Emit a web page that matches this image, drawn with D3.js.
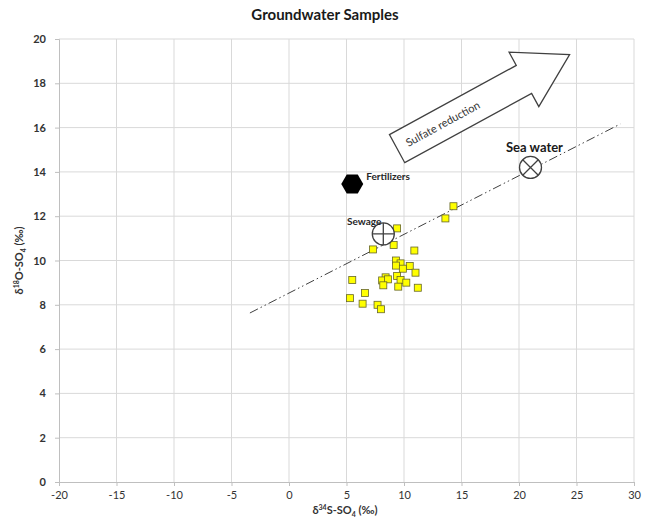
<!DOCTYPE html>
<html>
<head>
<meta charset="utf-8">
<script src="https://cdn.jsdelivr.net/npm/d3@7"></script>
<style>
  body { margin: 0; background: #fff; }
  text { font-family: Lato, "Open Sans", sans-serif; }
</style>
</head>
<body>
<svg id="chart"></svg>
<script>
// groundwater samples (d34S, d18O)
var sampleX = [14.3, 13.6, 9.4, 9.1, 7.3, 10.9, 9.3, 9.7, 9.3, 10.5, 9.9, 11.0, 5.5, 8.4, 8.1, 8.6, 9.4, 9.7, 8.2, 9.5, 10.2, 11.2, 6.6, 5.3, 6.4, 7.7, 8.0];
var sampleY = [12.45, 11.9, 11.45, 10.7, 10.5, 10.45, 10.0, 9.87, 9.77, 9.75, 9.63, 9.45, 9.12, 9.24, 9.1, 9.15, 9.3, 9.12, 8.88, 8.82, 9.0, 8.77, 8.53, 8.3, 8.05, 8.0, 7.8];

// end members
var sourceNames = ["Fertilizers", "Sewage", "Sea water"];
var sourceX = [5.5, 8.2, 21.0];
var sourceY = [13.45, 11.2, 14.2];

// mixing line and sulfate reduction arrow
var lineX = [-3.4, 28.8];
var lineY = [7.63, 16.16];
var arrowX = [9.4, 24.4];
var arrowY = [15.05, 19.3];

var xTicks = [-20, -15, -10, -5, 0, 5, 10, 15, 20, 25, 30];
var yTicks = [0, 2, 4, 6, 8, 10, 12, 14, 16, 18, 20];

var width = 648, height = 521;
var margin = {left: 59, right: 14, top: 39, bottom: 39};

var svg = d3.select("#chart")
  .attr("width", width)
  .attr("height", height);

var x = d3.scaleLinear().domain([-20, 30]).range([margin.left, width - margin.right]);
var y = d3.scaleLinear().domain([0, 20]).range([height - margin.bottom, margin.top]);

// gridlines
svg.append("g").selectAll("line").data(xTicks.slice(1)).enter().append("line")
  .attr("x1", function(d) { return x(d); }).attr("x2", function(d) { return x(d); })
  .attr("y1", y(0)).attr("y2", y(20))
  .attr("stroke", "#d9d9d9");
svg.append("g").selectAll("line").data(yTicks.slice(1)).enter().append("line")
  .attr("x1", x(-20)).attr("x2", x(30))
  .attr("y1", function(d) { return y(d); }).attr("y2", function(d) { return y(d); })
  .attr("stroke", "#d9d9d9");

// axes
var xAxis = svg.append("g")
  .attr("transform", "translate(0," + y(0) + ")")
  .call(d3.axisBottom(x).tickValues(xTicks).tickSize(4).tickPadding(5));
var yAxis = svg.append("g")
  .attr("transform", "translate(" + x(-20) + ",0)")
  .call(d3.axisLeft(y).tickValues(yTicks).tickSize(4).tickPadding(9));

[xAxis, yAxis].forEach(function(a) {
  a.select(".domain").attr("stroke", "#bfbfbf");
  a.selectAll(".tick line").attr("stroke", "#bfbfbf");
  a.selectAll(".tick text").attr("fill", "#333").style("font-family", "Lato, sans-serif").style("font-size", "11px");
});
xAxis.selectAll(".tick text").text(function(d) { return d < 0 ? "-" + Math.abs(d) : d; });
yAxis.selectAll(".tick text").style("font-weight", "bold");

// title
svg.append("text")
  .attr("x", 325).attr("y", 20)
  .attr("text-anchor", "middle")
  .style("font-size", "15px").style("font-weight", "bold").attr("fill", "#1a1a1a")
  .text("Groundwater Samples");

// axis titles
var xt = svg.append("text")
  .attr("x", 345).attr("y", 514)
  .attr("text-anchor", "middle")
  .style("font-size", "11px").style("font-weight", "bold").attr("fill", "#333");
xt.append("tspan").text("δ");
xt.append("tspan").attr("dy", -4).style("font-size", "7px").text("34");
xt.append("tspan").attr("dy", 4).text("S-SO");
xt.append("tspan").attr("dy", 3).style("font-size", "7px").text("4");
xt.append("tspan").attr("dy", -3).text(" (‰)");

var yt = svg.append("text")
  .attr("transform", "translate(23," + y(10) + ") rotate(-90)")
  .attr("text-anchor", "middle")
  .style("font-size", "11px").style("font-weight", "bold").attr("fill", "#333");
yt.append("tspan").text("δ");
yt.append("tspan").attr("dy", -4).style("font-size", "7px").text("18");
yt.append("tspan").attr("dy", 4).text("O-SO");
yt.append("tspan").attr("dy", 3).style("font-size", "7px").text("4");
yt.append("tspan").attr("dy", -3).text(" (‰)");

// mixing line (dash-dot-dot)
svg.append("line")
  .attr("x1", x(lineX[0])).attr("y1", y(lineY[0]))
  .attr("x2", x(lineX[1])).attr("y2", y(lineY[1]))
  .attr("stroke", "#404040").attr("stroke-width", 1)
  .attr("stroke-dasharray", "9,3,1.5,3,1.5,3");

// sulfate reduction arrow
var ax0 = x(arrowX[0]), ay0 = y(arrowY[0]), ax1 = x(arrowX[1]), ay1 = y(arrowY[1]);
var alen = Math.hypot(ax1 - ax0, ay1 - ay0);
var aang = Math.atan2(ay1 - ay0, ax1 - ax0) * 180 / Math.PI;
var shaftW = 16, headW = 31, headL = 52;
var arrowPts = [[0, -shaftW], [alen - headL, -shaftW], [alen - headL, -headW], [alen, 0],
  [alen - headL, headW], [alen - headL, shaftW], [0, shaftW]];
var arrowG = svg.append("g")
  .attr("transform", "translate(" + ax0 + "," + ay0 + ") rotate(" + aang + ")");
arrowG.append("path")
  .attr("d", d3.line()(arrowPts) + "Z")
  .attr("fill", "#fff").attr("stroke", "#404040").attr("stroke-width", 1.3);
arrowG.append("text")
  .attr("x", 52).attr("y", 4)
  .attr("text-anchor", "middle")
  .style("font-size", "11px").attr("fill", "#333")
  .text("Sulfate reduction");

// samples
svg.append("g").selectAll("rect").data(sampleX).enter().append("rect")
  .attr("x", function(d) { return x(d) - 3.5; })
  .attr("y", function(d, i) { return y(sampleY[i]) - 3.5; })
  .attr("width", 7).attr("height", 7)
  .attr("fill", "#ffff00").attr("stroke", "#66662a").attr("stroke-width", 0.8);

// fertilizers: black hexagon
var fx = x(sourceX[0]), fy = y(sourceY[0]);
var hex = d3.range(6).map(function(k) {
  var a = k * Math.PI / 3;
  return [fx + 11 * Math.cos(a), fy + 11 * Math.sin(a)];
});
svg.append("path").attr("d", d3.line()(hex) + "Z").attr("fill", "#000");
svg.append("text").attr("x", fx + 14).attr("y", fy - 4)
  .style("font-size", "10px").style("font-weight", "bold").attr("fill", "#262626")
  .text(sourceNames[0]);

// sewage: circle with plus
var sx = x(sourceX[1]), sy = y(sourceY[1]), r = 11;
svg.append("circle").attr("cx", sx).attr("cy", sy).attr("r", r)
  .attr("fill", "#fff").attr("stroke", "#404040").attr("stroke-width", 1.3);
svg.append("path")
  .attr("d", "M" + (sx - r) + "," + sy + "H" + (sx + r) + "M" + sx + "," + (sy - r) + "V" + (sy + r))
  .attr("stroke", "#404040").attr("stroke-width", 1.3);
svg.append("text").attr("x", sx - 2).attr("y", sy - 9)
  .attr("text-anchor", "end")
  .style("font-size", "10px").style("font-weight", "bold").attr("fill", "#262626")
  .text(sourceNames[1]);

// sea water: circle with X
var wx = x(sourceX[2]), wy = y(sourceY[2]), d = r * Math.SQRT1_2;
svg.append("circle").attr("cx", wx).attr("cy", wy).attr("r", r)
  .attr("fill", "#fff").attr("stroke", "#404040").attr("stroke-width", 1.3);
svg.append("path")
  .attr("d", "M" + (wx - d) + "," + (wy - d) + "L" + (wx + d) + "," + (wy + d) +
    "M" + (wx - d) + "," + (wy + d) + "L" + (wx + d) + "," + (wy - d))
  .attr("stroke", "#404040").attr("stroke-width", 1.3);
svg.append("text").attr("x", wx + 4).attr("y", wy - 15)
  .attr("text-anchor", "middle")
  .style("font-size", "13px").style("font-weight", "bold").attr("fill", "#1a1a1a")
  .text(sourceNames[2]);
</script>
</body>
</html>
